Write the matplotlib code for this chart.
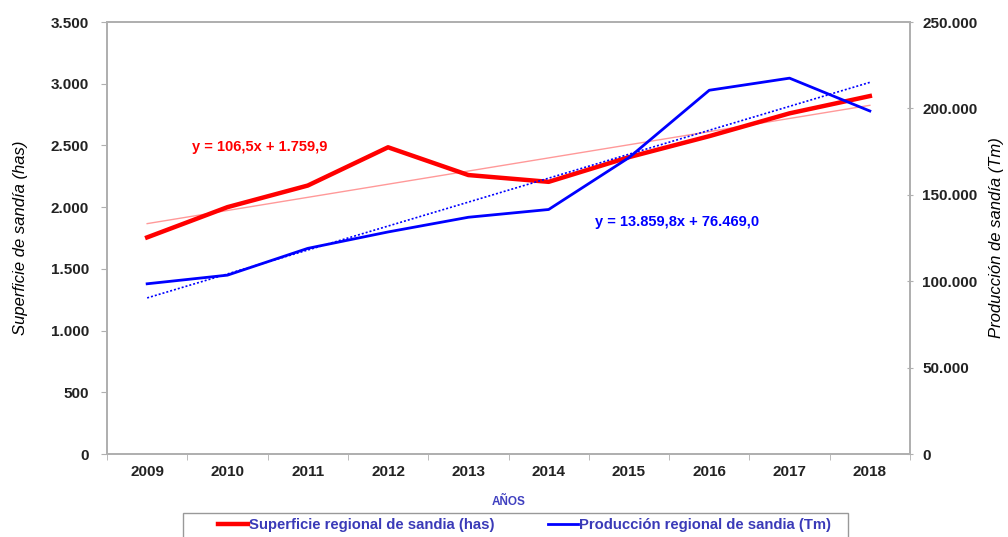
import matplotlib

matplotlib.use("Agg")
import matplotlib.pyplot as plt
import numpy as np
from matplotlib.patches import Rectangle
from matplotlib.ticker import FuncFormatter

plt.rcParams["font.family"] = ["Liberation Sans", "DejaVu Sans"]

years = ["2009", "2010", "2011", "2012", "2013", "2014", "2015", "2016", "2017", "2018"]
superficie = [1755, 2000, 2175, 2485, 2260, 2205, 2405, 2575, 2760, 2900]
produccion = [98500, 103500, 119000, 128500, 137000, 141500, 171500, 210500, 217500, 198500]

# trend lines as printed on the chart (x = 1..10)
sup_trend = (106.5, 1759.9)
prod_trend = (13859.8, 76469.0)

RED = "#ff0000"
BLUE = "#0000ff"
LEGTXT = "#3a3ab8"
FRAME = "#b0b0b0"


def _miles(v, _pos):
    return f"{v:,.0f}".replace(",", ".")


fig = plt.figure(figsize=(10.08, 5.37), dpi=100)
ax = fig.add_axes([107 / 1008, 1 - 454 / 537, 803 / 1008, 432 / 537])
ax2 = ax.twinx()

x = np.arange(1, len(years) + 1)
t = np.array([1, len(years)])

ax.plot(t, sup_trend[0] * t + sup_trend[1], color="#ff8080", lw=1.0, alpha=0.8, zorder=2)
ax.plot(x, superficie, color=RED, lw=3.2, zorder=3, label="Superficie regional de sandia (has)")
ax2.plot(t, prod_trend[0] * t + prod_trend[1], color=BLUE, lw=1.2, ls=(0, (1.2, 1.2)), zorder=2)
ax2.plot(x, produccion, color=BLUE, lw=2.0, zorder=3, label="Producción regional de sandia (Tm)")

ax.set_xlim(0.5, len(years) + 0.5)
ax.set_ylim(0, 3500)
ax2.set_ylim(0, 250000)
ax.set_yticks(np.arange(0, 3501, 500))
ax2.set_yticks(np.arange(0, 250001, 50000))
ax.yaxis.set_major_formatter(FuncFormatter(_miles))
ax2.yaxis.set_major_formatter(FuncFormatter(_miles))

ax.set_xticks(x)
ax.set_xticklabels(years)
ax.set_xticks(np.arange(0.5, len(years) + 1), minor=True)
ax.tick_params(axis="x", which="major", length=0, pad=8)
ax.tick_params(axis="x", which="minor", length=4, color=FRAME)
ax.tick_params(axis="y", length=4, color=FRAME, pad=9)
ax2.tick_params(axis="y", length=4, color=FRAME, direction="inout", pad=7)
for a in (ax, ax2):
    for lab in a.get_xticklabels() + a.get_yticklabels():
        lab.set_fontsize(11)
        lab.set_fontweight("bold")
        lab.set_color("#222222")
    for s in a.spines.values():
        s.set_color(FRAME)
        s.set_linewidth(1.4)

ax.set_ylabel("Superficie de sandía (has)", fontsize=12, style="italic", labelpad=16)
ax2.set_ylabel("Producción de sandía (Tm)", fontsize=12, style="italic", labelpad=8)
ax.set_xlabel("AÑOS", fontsize=8.5, fontweight="bold", color="#4040c0", labelpad=12)

ax.text(0.106, 0.711, "y = 106,5x + 1.759,9", transform=ax.transAxes,
        color=RED, fontsize=10.5, fontweight="bold", va="center")
ax.text(0.608, 0.538, "y = 13.859,8x + 76.469,0", transform=ax.transAxes,
        color=BLUE, fontsize=10.5, fontweight="bold", va="center")

# legend box runs off the bottom edge, as in the original
fig.add_artist(Rectangle((183 / 1008, -0.02), 665 / 1008, 0.02 + 24 / 537,
                         transform=fig.transFigure, fc="white", ec="#999999", lw=1.0))
h1, l1 = ax.get_legend_handles_labels()
h2, l2 = ax2.get_legend_handles_labels()
leg = fig.legend(h1 + h2, l1 + l2, loc="center left", bbox_to_anchor=(218 / 1008, 1 - 525 / 537),
                 ncol=2, frameon=False, fontsize=10.7, handlelength=2.0,
                 handletextpad=0.1, columnspacing=3.6, borderpad=0, borderaxespad=0)
for txt in leg.get_texts():
    txt.set_color(LEGTXT)
    txt.set_fontweight("bold")

fig.savefig("out.png", dpi=100)
